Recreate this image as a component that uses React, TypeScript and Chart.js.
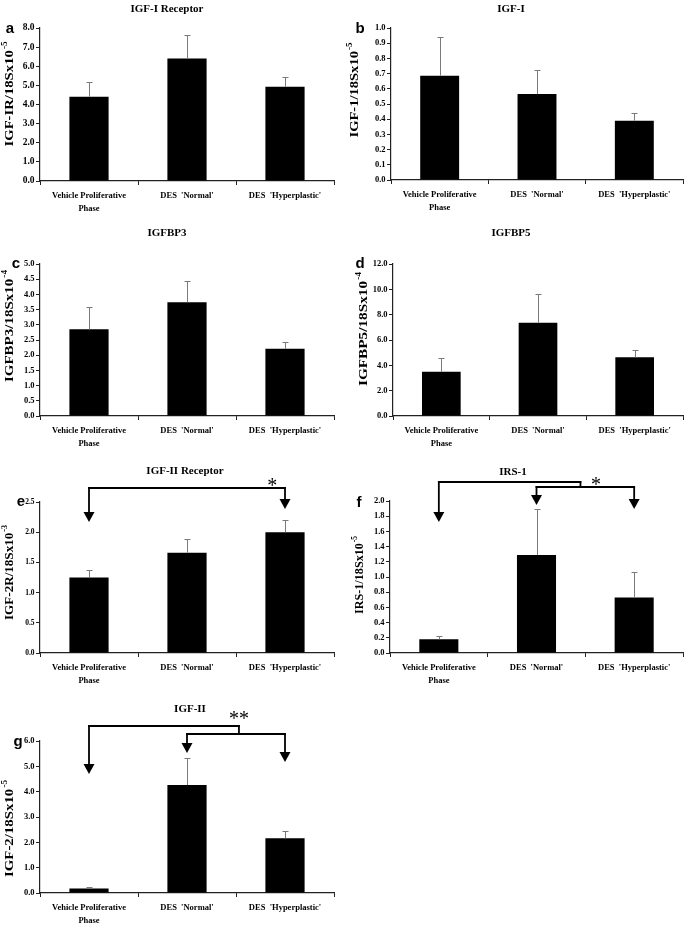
import React, { useEffect, useRef } from 'react';
import { Chart, registerables } from 'chart.js';

Chart.register(...registerables);

// ---------------- DATA ----------------
const CATEGORIES: (string | string[])[] = [['Vehicle Proliferative', 'Phase'], "DES  'Normal'", "DES  'Hyperplastic'"];

// a  IGF-I Receptor
const IGF1R_MEAN = [4.41, 6.41, 4.93];
const IGF1R_ERR = [0.75, 1.22, 0.52];
const IGF1R_AXIS = { max: 8, step: 1 };

// b  IGF-I
const IGF1_MEAN = [0.686, 0.566, 0.39];
const IGF1_ERR = [0.258, 0.158, 0.049];
const IGF1_AXIS = { max: 1, step: 0.1 };

// c  IGFBP3
const IGFBP3_MEAN = [2.85, 3.74, 2.21];
const IGFBP3_ERR = [0.75, 0.71, 0.22];
const IGFBP3_AXIS = { max: 5, step: 0.5 };

// d  IGFBP5
const IGFBP5_MEAN = [3.5, 7.37, 4.63];
const IGFBP5_ERR = [1.05, 2.26, 0.55];
const IGFBP5_AXIS = { max: 12, step: 2 };

// e  IGF-II Receptor
const IGF2R_MEAN = [1.25, 1.66, 2.0];
const IGF2R_ERR = [0.12, 0.22, 0.21];
const IGF2R_AXIS = { max: 2.5, step: 0.5 };

// f  IRS-1
const IRS1_MEAN = [0.18, 1.29, 0.73];
const IRS1_ERR = [0.05, 0.61, 0.33];
const IRS1_AXIS = { max: 2, step: 0.2 };

// g  IGF-II
const IGF2_MEAN = [0.18, 4.26, 2.16];
const IGF2_ERR = [0.05, 1.06, 0.3];
const IGF2_AXIS = { max: 6, step: 1 };

// ---------------- STYLE / LAYOUT ----------------
const W = 685;
const H = 926;
const YW = 35; // y axis box width
const XH = 36; // x axis box height
const SERIF = "'Liberation Serif', 'Times New Roman', Times, serif";
const SANS = "'Liberation Sans', Arial, Helvetica, sans-serif";
const AXIS_COLOR = '#222';

type Sig = {
  lines: { a: number; b: number; dy: number }[];
  arrows: { at: number; from: number; tip: number }[];
  connectors: { at: number; from: number; to: number }[];
  star: { text: string; at: number; dy: number };
};

type Panel = {
  mean: number[];
  err: number[];
  axis: { max: number; step: number };
  area: { l: number; t: number; r: number; b: number };
  tickSize: number;
  title: string;
  titlePos: [number, number];
  letter: string;
  letterPos: [number, number];
  yLabel: string;
  ySup: string;
  yLabelPos: [number, number];
  yLabelLen: number;
  sig?: Sig;
};

const PANELS: Panel[] = [
  {
    mean: IGF1R_MEAN, err: IGF1R_ERR, axis: IGF1R_AXIS,
    area: { l: 40, t: 28, r: 334, b: 181 }, tickSize: 9.5,
    title: 'IGF-I Receptor', titlePos: [167, 9],
    letter: 'a', letterPos: [10, 33],
    yLabel: 'IGF-IR/18Sx10', ySup: '-5', yLabelPos: [9, 94], yLabelLen: 105,
  },
  {
    mean: IGF1_MEAN, err: IGF1_ERR, axis: IGF1_AXIS,
    area: { l: 391, t: 28, r: 683, b: 180 }, tickSize: 8.5,
    title: 'IGF-I', titlePos: [511, 9],
    letter: 'b', letterPos: [360, 33],
    yLabel: 'IGF-1/18Sx10', ySup: '-5', yLabelPos: [354, 90], yLabelLen: 95,
  },
  {
    mean: IGFBP3_MEAN, err: IGFBP3_ERR, axis: IGFBP3_AXIS,
    area: { l: 40, t: 264, r: 334, b: 416 }, tickSize: 8.5,
    title: 'IGFBP3', titlePos: [167, 233],
    letter: 'c', letterPos: [16, 268],
    yLabel: 'IGFBP3/18Sx10', ySup: '-4', yLabelPos: [9, 326], yLabelLen: 112,
  },
  {
    mean: IGFBP5_MEAN, err: IGFBP5_ERR, axis: IGFBP5_AXIS,
    area: { l: 393, t: 264, r: 683, b: 416 }, tickSize: 8.5,
    title: 'IGFBP5', titlePos: [511, 233],
    letter: 'd', letterPos: [360, 268],
    yLabel: 'IGFBP5/18Sx10', ySup: '-4', yLabelPos: [363, 329], yLabelLen: 114,
  },
  {
    mean: IGF2R_MEAN, err: IGF2R_ERR, axis: IGF2R_AXIS,
    area: { l: 40, t: 502, r: 334, b: 653 }, tickSize: 7.5,
    title: 'IGF-II Receptor', titlePos: [185, 471],
    letter: 'e', letterPos: [21, 506],
    yLabel: 'IGF-2R/18Sx10', ySup: '-3', yLabelPos: [9, 572.5], yLabelLen: 95,
    sig: {
      lines: [{ a: 0, b: 2, dy: -14 }],
      arrows: [{ at: 0, from: -14, tip: 20 }, { at: 2, from: -14, tip: 7 }],
      connectors: [],
      star: { text: '*', at: 1.87, dy: -21 },
    },
  },
  {
    mean: IRS1_MEAN, err: IRS1_ERR, axis: IRS1_AXIS,
    area: { l: 390, t: 501, r: 683, b: 653 }, tickSize: 8.5,
    title: 'IRS-1', titlePos: [513, 472],
    letter: 'f', letterPos: [359, 507],
    yLabel: 'IRS-1/18Sx10', ySup: '-5', yLabelPos: [359, 575], yLabelLen: 78,
    sig: {
      lines: [{ a: 0, b: 1.45, dy: -19 }, { a: 1, b: 2, dy: -14 }],
      arrows: [{ at: 0, from: -19, tip: 21 }, { at: 1, from: -14, tip: 4 }, { at: 2, from: -14, tip: 8 }],
      connectors: [{ at: 1.45, from: -19, to: -14 }],
      star: { text: '*', at: 1.61, dy: -21 },
    },
  },
  {
    mean: IGF2_MEAN, err: IGF2_ERR, axis: IGF2_AXIS,
    area: { l: 40, t: 741, r: 334, b: 893 }, tickSize: 8.5,
    title: 'IGF-II', titlePos: [190, 709],
    letter: 'g', letterPos: [18, 746],
    yLabel: 'IGF-2/18Sx10', ySup: '-5', yLabelPos: [9, 828.5], yLabelLen: 97,
    sig: {
      lines: [{ a: 0, b: 1.53, dy: -15 }, { a: 1, b: 2, dy: -7 }],
      arrows: [{ at: 0, from: -15, tip: 33 }, { at: 1, from: -7, tip: 12 }, { at: 2, from: -7, tip: 21 }],
      connectors: [{ at: 1.53, from: -15, to: -7 }],
      star: { text: '**', at: 1.53, dy: -27 },
    },
  },
];

function makePlugin(p: Panel) {
  return {
    id: 'panelDecor',
    afterDatasetsDraw(chart: any) {
      const ctx: CanvasRenderingContext2D = chart.ctx;
      const ys = chart.scales.y;
      const meta = chart.getDatasetMeta(0);
      ctx.save();
      ctx.strokeStyle = '#7a7a7a';
      ctx.lineWidth = 1;
      p.mean.forEach((m, i) => {
        const el = meta.data[i];
        const x = Math.round(el.x) + 0.5;
        const yb = ys.getPixelForValue(m);
        const yt = Math.round(ys.getPixelForValue(m + p.err[i])) + 0.5;
        ctx.beginPath();
        ctx.moveTo(x, yb);
        ctx.lineTo(x, yt);
        ctx.moveTo(x - 3, yt);
        ctx.lineTo(x + 3, yt);
        ctx.stroke();
      });
      ctx.restore();
    },
    afterDraw(chart: any) {
      const ctx: CanvasRenderingContext2D = chart.ctx;
      const xs = chart.scales.x;
      const top = chart.chartArea.top;
      ctx.save();
      ctx.fillStyle = '#000';
      // title
      ctx.font = `bold 11px ${SERIF}`;
      ctx.textAlign = 'center';
      ctx.textBaseline = 'middle';
      ctx.fillText(p.title, p.titlePos[0], p.titlePos[1]);
      // letter
      ctx.font = `bold 15px ${SANS}`;
      ctx.textBaseline = 'alphabetic';
      ctx.fillText(p.letter, p.letterPos[0], p.letterPos[1]);
      // y label rotated with superscript, fitted to the reference length
      ctx.save();
      ctx.translate(p.yLabelPos[0], p.yLabelPos[1]);
      ctx.rotate(-Math.PI / 2);
      ctx.font = `bold 13px ${SERIF}`;
      const wm = ctx.measureText(p.yLabel).width;
      ctx.font = `bold 8px ${SERIF}`;
      const wsup = ctx.measureText(p.ySup).width;
      const total = wm + wsup + 1;
      ctx.scale(p.yLabelLen / total, 1);
      const start = -total / 2;
      ctx.textAlign = 'left';
      ctx.textBaseline = 'middle';
      ctx.font = `bold 13px ${SERIF}`;
      ctx.fillText(p.yLabel, start, 1);
      ctx.font = `bold 8px ${SERIF}`;
      ctx.fillText(p.ySup, start + wm + 1, -4);
      ctx.restore();

      // significance brackets
      if (p.sig) {
        const c0 = xs.getPixelForValue(0);
        const cw = xs.getPixelForValue(1) - c0;
        const px = (at: number) => c0 + at * cw;
        ctx.strokeStyle = '#000';
        ctx.lineWidth = 1.8;
        ctx.lineCap = 'square';
        p.sig.lines.forEach((ln) => {
          ctx.beginPath();
          ctx.moveTo(px(ln.a), top + ln.dy);
          ctx.lineTo(px(ln.b), top + ln.dy);
          ctx.stroke();
        });
        p.sig.connectors.forEach((cn) => {
          ctx.beginPath();
          ctx.moveTo(px(cn.at), top + cn.from);
          ctx.lineTo(px(cn.at), top + cn.to);
          ctx.stroke();
        });
        p.sig.arrows.forEach((ar) => {
          const x = px(ar.at);
          const tip = top + ar.tip;
          ctx.beginPath();
          ctx.moveTo(x, top + ar.from);
          ctx.lineTo(x, tip - 8);
          ctx.stroke();
          ctx.beginPath();
          ctx.moveTo(x - 5.5, tip - 10);
          ctx.lineTo(x + 5.5, tip - 10);
          ctx.lineTo(x, tip);
          ctx.closePath();
          ctx.fill();
        });
        ctx.font = `20px ${SERIF}`;
        ctx.textAlign = 'center';
        ctx.textBaseline = 'alphabetic';
        ctx.fillText(p.sig.star.text, px(p.sig.star.at), top + p.sig.star.dy + 11);
      }
      ctx.restore();
    },
  };
}

function buildConfig(p: Panel): any {
  const catFont = { family: SERIF, size: 8.5, weight: 'bold' as const, lineHeight: 1.55 };
  return {
    type: 'bar',
    data: {
      labels: CATEGORIES,
      datasets: [
        {
          data: p.mean,
          backgroundColor: '#000',
          borderWidth: 0,
          barPercentage: 0.4,
          categoryPercentage: 1,
        },
      ],
    },
    options: {
      animation: false,
      responsive: false,
      maintainAspectRatio: false,
      events: [],
      layout: {
        padding: {
          left: p.area.l - YW,
          top: p.area.t,
          right: W - p.area.r,
          bottom: H - p.area.b - XH,
        },
      },
      plugins: {
        legend: { display: false },
        tooltip: { enabled: false },
        title: { display: false },
      },
      scales: {
        x: {
          offset: true,
          grid: { offset: true, drawOnChartArea: false, drawTicks: true, tickLength: 4, color: AXIS_COLOR, lineWidth: 1 },
          border: { display: true, color: AXIS_COLOR, width: 1.2 },
          ticks: { font: catFont, color: '#000', padding: 4, maxRotation: 0, minRotation: 0, autoSkip: false },
          afterFit: (s: any) => {
            s.height = XH;
          },
        },
        y: {
          min: 0,
          max: p.axis.max,
          grid: { drawOnChartArea: false, drawTicks: true, tickLength: 4, color: AXIS_COLOR, lineWidth: 1 },
          border: { display: true, color: AXIS_COLOR, width: 1.2 },
          ticks: {
            stepSize: p.axis.step,
            font: { family: SERIF, size: p.tickSize, weight: 'bold' as const },
            color: '#000',
            padding: 1.5,
            callback: (v: any) => Number(v).toFixed(1),
          },
          afterFit: (s: any) => {
            s.width = YW;
          },
        },
      },
    },
    plugins: [makePlugin(p)],
  };
}

export default function App() {
  const refs = useRef<(HTMLCanvasElement | null)[]>([]);

  useEffect(() => {
    const charts = PANELS.map((p, i) => {
      const cv = refs.current[i]!;
      return new Chart(cv, buildConfig(p));
    });
    return () => charts.forEach((c) => c.destroy());
  }, []);

  return (
    <div style={{ position: 'absolute', left: 0, top: 0, width: W, height: H, background: '#fff', overflow: 'hidden' }}>
      {PANELS.map((_, i) => (
        <canvas
          key={i}
          ref={(el) => {
            refs.current[i] = el;
          }}
          width={W}
          height={H}
          style={{ position: 'absolute', left: 0, top: 0, width: W, height: H }}
        />
      ))}
    </div>
  );
}
